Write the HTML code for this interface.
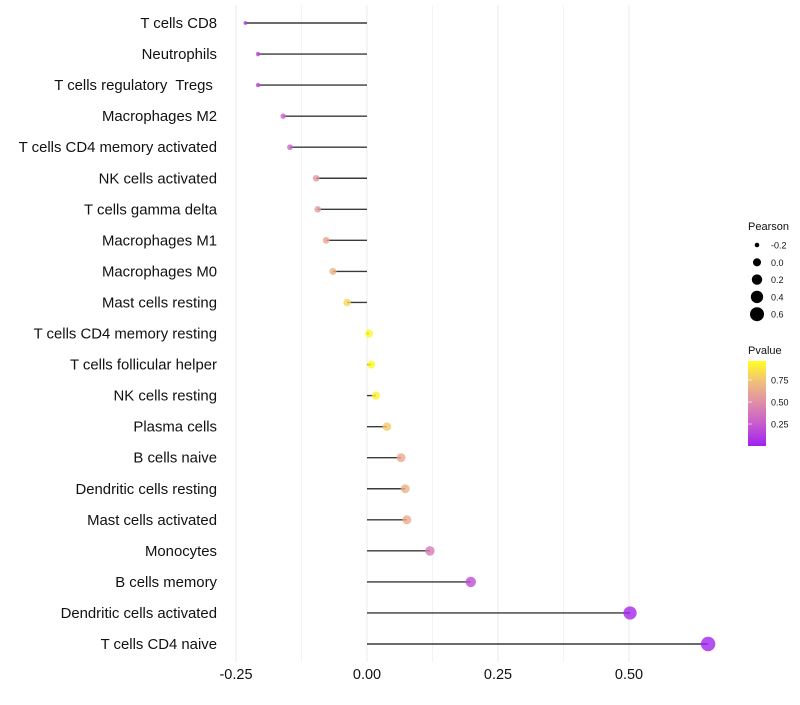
<!DOCTYPE html>
<html><head><meta charset="utf-8"><style>
body{margin:0;background:#fff;font-family:"Liberation Sans",sans-serif}
svg text{font-family:"Liberation Sans",sans-serif;white-space:pre}
</style></head><body>
<svg id="c" width="800" height="700">
<defs><linearGradient id="pg" x1="0" y1="1" x2="0" y2="0">
<stop offset="0" stop-color="#A020F0"/><stop offset="0.25" stop-color="#C65AD0"/><stop offset="0.5" stop-color="#DE8CA8"/><stop offset="0.75" stop-color="#F0BE7C"/><stop offset="1" stop-color="#FFFF20"/></linearGradient></defs>
</svg>
<script>
const cells=["T cells CD8","Neutrophils","T cells regulatory  Tregs ","Macrophages M2","T cells CD4 memory activated","NK cells activated","T cells gamma delta","Macrophages M1","Macrophages M0","Mast cells resting","T cells CD4 memory resting","T cells follicular helper","NK cells resting","Plasma cells","B cells naive","Dendritic cells resting","Mast cells activated","Monocytes","B cells memory","Dendritic cells activated","T cells CD4 naive"];
const pearson=[-0.232,-0.208,-0.208,-0.160,-0.147,-0.097,-0.094,-0.078,-0.065,-0.038,0.004,0.008,0.017,0.038,0.065,0.073,0.076,0.120,0.198,0.502,0.651];
const pvalue=[0.08,0.15,0.15,0.3,0.3,0.55,0.57,0.65,0.7,0.85,0.97,0.97,0.95,0.8,0.65,0.68,0.66,0.42,0.2,0.03,0.02];
const xticks=[-0.25,0,0.25,0.5];
const xtickLabels=["-0.25","0.00","0.25","0.50"];
const sizeBreaks=[-0.2,0,0.2,0.4,0.6];
const sizeLabels=["-0.2","0.0","0.2","0.4","0.6"];
const pBreaks=[0.25,0.5,0.75];
const pLabels=["0.25","0.50","0.75"];

const svg=document.getElementById('c');const NS='http://www.w3.org/2000/svg';
function mk(t,a,p){const e=document.createElementNS(NS,t);for(const k in a)e.setAttribute(k,a[k]);(p||svg).appendChild(e);return e;}
const X=v=>367+v*524;
const Y=i=>23+i*31.05;
const R=v=>Math.sqrt(Math.max(16.2+54.6*v,1.5));
const stops=[[0,[160,32,240]],[0.25,[198,90,208]],[0.5,[222,140,168]],[0.75,[240,190,124]],[1,[255,255,32]]];
function col(p){for(let i=1;i<stops.length;i++){if(p<=stops[i][0]){const a=stops[i-1],b=stops[i];const t=(p-a[0])/(b[0]-a[0]);const c=a[1].map((v,j)=>Math.round(v+(b[1][j]-v)*t));return `rgb(${c})`;}}return 'rgb(255,255,32)';}
for(let k=0;k<xticks.length;k++){
 let g=mk('line',{x1:X(xticks[k]),x2:X(xticks[k]),y1:5,y2:662,stroke:'#ebebeb','stroke-width':1});
 
 if(k<xticks.length-1){let m=mk('line',{x1:X(xticks[k]+0.125),x2:X(xticks[k]+0.125),y1:5,y2:662,stroke:'#f3f3f3','stroke-width':1});
 }
 let t=mk('text',{x:X(xticks[k]),y:679,'text-anchor':'middle','font-size':14.5,fill:'#111'});t.textContent=xtickLabels[k];
 
}
cells.forEach((c,i)=>{
 let t=mk('text',{x:217,y:Y(i)+5,'text-anchor':'end','font-size':14.9,fill:'#111'});t.textContent=c;
 
 let l=mk('line',{x1:X(0),x2:X(pearson[i]),y1:Y(i),y2:Y(i),stroke:'#3a3a3a','stroke-width':1.4});
 
 let d=mk('circle',{cx:X(pearson[i]),cy:Y(i),r:R(pearson[i]),fill:col(pvalue[i]),'fill-opacity':0.8});
 
});
let st=mk('text',{x:748,y:230,'font-size':11,fill:'#111'});st.textContent='Pearson';

sizeBreaks.forEach((v,i)=>{const y=245+i*17.3;
 let c=mk('circle',{cx:757,cy:y,r:R(v),fill:'#000'});
 
 let t=mk('text',{x:771,y:y+3.5,'font-size':9,fill:'#111'});t.textContent=sizeLabels[i];
 });
let pt=mk('text',{x:748,y:354,'font-size':11,fill:'#111'});pt.textContent='Pvalue';

let bar=mk('rect',{x:748,y:361,width:18,height:85,fill:'url(#pg)'});

const PY=p=>446-p*88;
pBreaks.forEach((p,i)=>{
 let tk=mk('line',{x1:748,x2:752,y1:PY(p),y2:PY(p),stroke:'#fff','stroke-opacity':0.6});
 
 let t=mk('text',{x:771,y:PY(p)+3.5,'font-size':9,fill:'#111'});t.textContent=pLabels[i];
 });
</script>
</body></html>
